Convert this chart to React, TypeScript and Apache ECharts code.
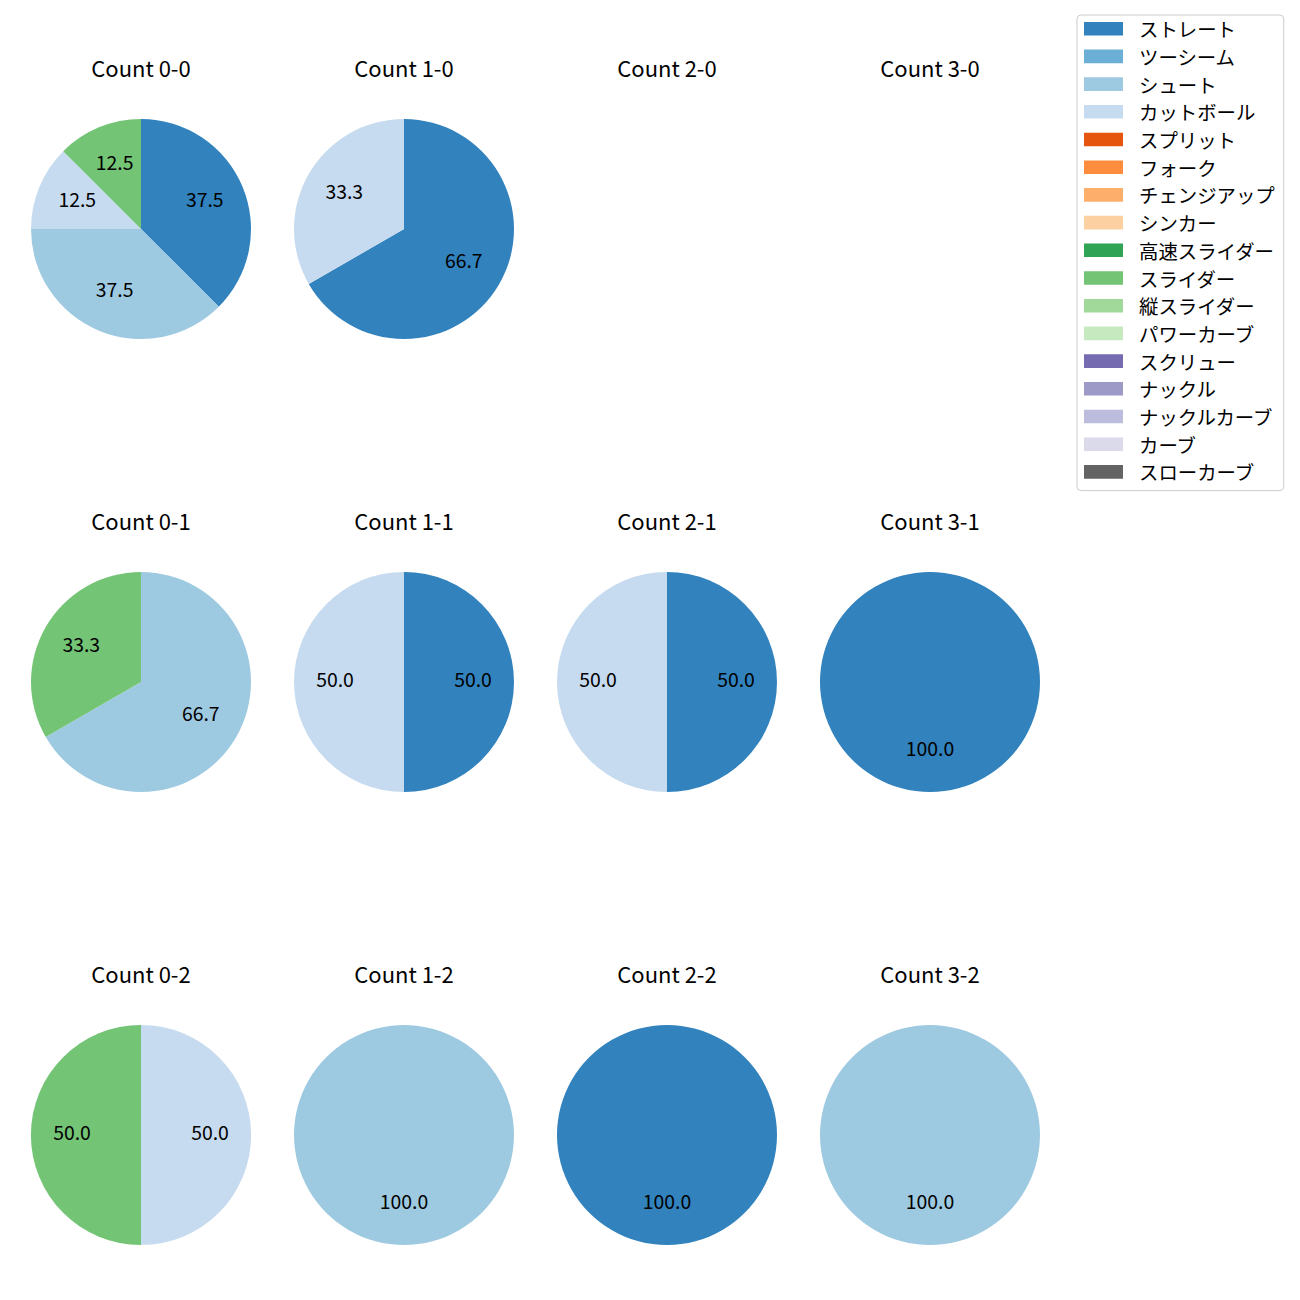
import React, { useEffect, useRef } from "react";
import * as echarts from "echarts";

const categories = [
  "ストレート", "ツーシーム", "シュート", "カットボール", "スプリット", "フォーク",
  "チェンジアップ", "シンカー", "高速スライダー", "スライダー", "縦スライダー",
  "パワーカーブ", "スクリュー", "ナックル", "ナックルカーブ", "カーブ", "スローカーブ",
];
const colors = [
  "#3182bd", "#6baed6", "#9ecae1", "#c6dbef", "#e6550d", "#fd8d3c",
  "#fdae6b", "#fdd0a2", "#31a354", "#74c476", "#a1d99b", "#c7e9c0",
  "#756bb1", "#9e9ac8", "#bcbddc", "#dadaeb", "#636363",
];

const panelTitles = [
  ["Count 0-0", "Count 1-0", "Count 2-0", "Count 3-0"],
  ["Count 0-1", "Count 1-1", "Count 2-1", "Count 3-1"],
  ["Count 0-2", "Count 1-2", "Count 2-2", "Count 3-2"],
];
const count00: [string, number][] = [["ストレート", 3], ["シュート", 3], ["カットボール", 1], ["スライダー", 1]];
const count10: [string, number][] = [["ストレート", 2], ["カットボール", 1]];
const count20: [string, number][] = [];
const count30: [string, number][] = [];
const count01: [string, number][] = [["シュート", 2], ["スライダー", 1]];
const count11: [string, number][] = [["ストレート", 1], ["カットボール", 1]];
const count21: [string, number][] = [["ストレート", 1], ["カットボール", 1]];
const count31: [string, number][] = [["ストレート", 1]];
const count02: [string, number][] = [["カットボール", 1], ["スライダー", 1]];
const count12: [string, number][] = [["シュート", 1]];
const count22: [string, number][] = [["ストレート", 1]];
const count32: [string, number][] = [["シュート", 1]];
const panelData = [
  [count00, count10, count20, count30],
  [count01, count11, count21, count31],
  [count02, count12, count22, count32],
];

const FONT = "'Noto Sans CJK JP', 'Noto Sans', sans-serif";
const colX = [141, 404, 667, 930];
const rowY = [229, 682, 1135];
const R = 110;

export default function App() {
  const ref = useRef<HTMLDivElement>(null);
  useEffect(() => {
    document.body.style.margin = "0";
    const chart = echarts.init(ref.current!, null, { renderer: "svg" });
    const colorOf = (n: string) => colors[categories.indexOf(n)];
    const series: any[] = [];
    const titles: any[] = [];
    // legend provider
    series.push({
      type: "pie",
      radius: 0,
      center: [-100, -100],
      silent: true,
      label: { show: false },
      data: categories.map((c, i) => ({ name: c, value: 1, itemStyle: { color: colors[i] } })),
    });
    panelData.forEach((row, r) => {
      row.forEach((d, c) => {
        titles.push({
          text: panelTitles[r][c],
          left: colX[c],
          top: rowY[r] - 173,
          textAlign: "center",
          padding: 0,
          textStyle: { fontFamily: FONT, fontSize: 22, fontWeight: "normal", color: "#000" },
        });
        if (d.length === 0) return;
        const data = d.map(([n, v]) => ({ name: n, value: v, itemStyle: { color: colorOf(n) } }));
        series.push({
          type: "pie",
          center: [colX[c], rowY[r]],
          radius: [0, R],
          startAngle: 90,
          clockwise: true,
          silent: true,
          itemStyle: { borderWidth: 0 },
          label: { show: false },
          labelLine: { show: false },
          data,
        });
        series.push({
          type: "pie",
          center: [colX[c], rowY[r]],
          radius: [R * 0.2, R],
          startAngle: 90,
          clockwise: true,
          silent: true,
          itemStyle: { color: "rgba(0,0,0,0)", borderWidth: 0 },
          label: {
            show: true,
            position: "inside",
            fontFamily: FONT,
            fontSize: 19.4,
            color: "#000",
            offset: [0, -4],
            formatter: (p: any) => Number(p.percent).toFixed(1),
          },
          labelLine: { show: false },
          data: d.map(([n, v]) => ({ name: n, value: v })),
        });
      });
    });
    chart.setOption({
      animation: false,
      backgroundColor: "#fff",
      title: titles,
      legend: {
        data: categories,
        orient: "vertical",
        left: 1077,
        top: 15,
        padding: [4, 9, 9, 7],
        itemWidth: 39,
        itemHeight: 13.6,
        itemGap: 8.3,
        icon: "rect",
        borderColor: "#cccccc",
        borderWidth: 1,
        borderRadius: 4,
        selectedMode: false,
        textStyle: {
          fontFamily: FONT,
          fontSize: 19.4,
          lineHeight: 19.4,
          color: "#000",
          padding: [0, 0, 0, 11],
        },
      },
      series,
    });
    return () => chart.dispose();
  }, []);
  return <div ref={ref} style={{ width: 1300, height: 1300 }} />;
}
